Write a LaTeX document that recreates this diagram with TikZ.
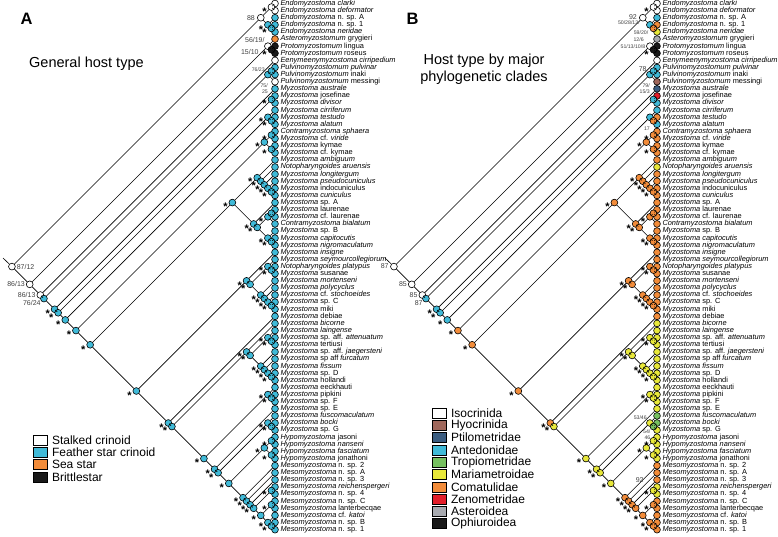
\documentclass[tikz,border=0pt]{standalone}
\usepackage{fontspec}
\setmainfont{Liberation Sans}
\usetikzlibrary{positioning}

\definecolor{wh}{RGB}{255,255,255}
\definecolor{bl}{RGB}{64,186,216}
\definecolor{or}{RGB}{242,140,58}
\definecolor{bk}{RGB}{25,25,25}
\definecolor{ye}{RGB}{232,232,58}
\definecolor{gr}{RGB}{118,192,96}
\definecolor{gy}{RGB}{168,170,176}
\definecolor{br}{RGB}{160,104,92}
\definecolor{db}{RGB}{58,92,128}
\definecolor{rd}{RGB}{226,30,42}

\tikzset{
  dot/.style={circle, draw, line width=0.6pt, inner sep=0pt, minimum size=6.8pt},
  leaflab/.style={anchor=west, inner sep=0pt, font=\fontsize{7.4}{8}\selectfont},
  starlab/.style={inner sep=0pt, font=\fontsize{11}{11}\selectfont\bfseries},
  supp/.style={inner sep=0.5pt, font=\fontsize{7}{7.5}\selectfont, text=black!75},
  suppsmall/.style={inner sep=0.3pt, font=\fontsize{5.2}{5.6}\selectfont, text=black!75},
  branch/.style={line width=0.6pt},
  legbox/.style={draw, line width=0.6pt, minimum width=14pt, minimum height=10pt, inner sep=0pt},
  legtext/.style={anchor=west, inner sep=0pt, font=\fontsize{12}{12}\selectfont},
}

% leaves: label / colour in A / colour in B
\def\leaflist{%
\textit{Endomyzostoma clarki}/wh/wh,
\textit{Endomyzostoma deformator}/wh/wh,
\textit{Endomyzostoma} n. sp. A/bl/bl,
\textit{Endomyzostoma} n. sp. 1/bl/or,
\textit{Endomyzostoma neridae}/bl/ye,
\textit{Asteromyzostomum} grygieri/or/gy,
\textit{Protomyzostomum} lingua/bk/bk,
\textit{Protomyzostomum} roseus/bk/bk,
\textit{Eenymeenymyzostoma cirripedium}/wh/wh,
\textit{Pulvinomyzostomum pulvinar}/bl/bl,
\textit{Pulvinomyzostomum} inaki/bl/bl,
\textit{Pulvinomyzostomum} messingi/wh/br,
\textit{Myzostoma australe}/bl/db,
\textit{Myzostoma} josefinae/bl/rd,
\textit{Myzostoma divisor}/bl/bl,
\textit{Myzostoma cirriferum}/bl/bl,
\textit{Myzostoma testudo}/bl/or,
\textit{Myzostoma alatum}/bl/bl,
\textit{Contramyzostoma sphaera}/bl/or,
\textit{Myzostoma} cf. \textit{viride}/bl/or,
\textit{Myzostoma} kymae/bl/or,
\textit{Myzostoma} cf. kymae/bl/or,
\textit{Myzostoma ambiguum}/bl/or,
\textit{Notopharyngoides aruensis}/bl/ye,
\textit{Myzostoma longitergum}/bl/or,
\textit{Myzostoma pseudocuniculus}/bl/or,
\textit{Myzostoma} indocuniculus/bl/or,
\textit{Myzostoma cuniculus}/bl/or,
\textit{Myzostoma} sp. A/bl/or,
\textit{Myzostoma} laurenae/bl/or,
\textit{Myzostoma} cf. laurenae/bl/or,
\textit{Contramyzostoma bialatum}/bl/or,
\textit{Myzostoma} sp. B/bl/or,
\textit{Myzostoma capitocutis}/bl/or,
\textit{Myzostoma nigromaculatum}/bl/or,
\textit{Myzostoma insigne}/bl/or,
\textit{Myzostoma seymourcollegiorum}/bl/or,
\textit{Notopharyngoides platypus}/bl/or,
\textit{Myzostoma} susanae/bl/or,
\textit{Myzostoma mortenseni}/bl/or,
\textit{Myzostoma polycyclus}/bl/or,
\textit{Myzostoma} cf. \textit{stochoeides}/bl/or,
\textit{Myzostoma} sp. C/bl/or,
\textit{Myzostoma} miki/bl/or,
\textit{Myzostoma} debiae/bl/or,
\textit{Myzostoma bicorne}/bl/ye,
\textit{Myzostoma laingense}/bl/ye,
\textit{Myzostoma} sp. aff. \textit{attenuatum}/bl/ye,
\textit{Myzostoma} tertiusi/bl/ye,
\textit{Myzostoma} sp. aff. \textit{jaegersteni}/bl/ye,
\textit{Myzostoma} sp aff \textit{furcatum}/bl/ye,
\textit{Myzostoma fissum}/bl/ye,
\textit{Myzostoma} sp. D/bl/ye,
\textit{Myzostoma} hollandi/bl/ye,
\textit{Myzostoma} eeckhauti/bl/ye,
\textit{Myzostoma} pipkini/bl/ye,
\textit{Myzostoma} sp. F/bl/ye,
\textit{Myzostoma} sp. E/bl/ye,
\textit{Myzostoma fuscomaculatum}/bl/gr,
\textit{Myzostoma bocki}/bl/gr,
\textit{Myzostoma} sp. G/bl/ye,
\textit{Hypomyzostoma} jasoni/bl/ye,
\textit{Hypomyzostoma nanseni}/bl/ye,
\textit{Hypomyzostoma fasciatum}/bl/ye,
\textit{Hypomyzostoma} jonathoni/bl/ye,
\textit{Mesomyzostoma} n. sp. 2/bl/or,
\textit{Mesomyzostoma} n. sp. A/bl/or,
\textit{Mesomyzostoma} n. sp. 3/bl/or,
\textit{Mesomyzostoma reichenspergeri}/bl/ye,
\textit{Mesomyzostoma} n. sp. 4/bl/ye,
\textit{Mesomyzostoma} n. sp. C/bl/or,
\textit{Mesomyzostoma} lanterbecqae/bl/or,
\textit{Mesomyzostoma} cf. \textit{katoi}/bl/or,
\textit{Mesomyzostoma} n. sp. B/bl/or,
\textit{Mesomyzostoma} n. sp. 1/bl/or}

% clades: first/last leaf, first child, second child, colour A, colour B,
% star (0 none, 1 both panels, 2 only A)
\def\cladelist{%
1/75/1/5/6/75/wh/wh/0, 1/5/1/2/3/5/wh/wh/0, 1/2/1/1/2/2/wh/wh/1,
3/5/3/3/4/5/bl/bl/2, 4/5/4/4/5/5/bl/or/2,
6/75/6/8/9/75/wh/wh/0, 6/8/6/6/7/8/wh/wh/0, 7/8/7/7/8/8/bk/bk/1,
9/75/9/9/10/75/wh/wh/0, 10/75/10/12/13/75/bl/bl/0,
10/12/10/11/12/12/bl/bl/0, 10/11/10/10/11/11/bl/bl/0,
13/75/13/13/14/75/bl/bl/1, 14/75/14/15/16/75/bl/bl/1, 14/15/14/14/15/15/bl/bl/2,
16/75/16/18/19/75/bl/bl/1, 16/18/16/16/17/18/bl/bl/2, 17/18/17/17/18/18/bl/or/2,
19/75/19/22/23/75/bl/or/1, 19/22/19/20/21/22/bl/or/1,
19/20/19/19/20/20/bl/or/1, 21/22/21/21/22/22/bl/or/1,
23/75/23/35/36/75/bl/or/1, 23/35/23/28/29/35/bl/or/1,
23/28/23/23/24/28/bl/or/1, 24/28/24/24/25/28/bl/or/1, 25/28/25/25/26/28/bl/or/1,
26/28/26/26/27/28/bl/or/1, 27/28/27/27/28/28/bl/or/1,
29/35/29/29/30/35/bl/or/1, 30/35/30/32/33/35/bl/or/1, 30/32/30/31/32/32/bl/or/1,
30/31/30/30/31/31/bl/or/0, 33/35/33/33/34/35/bl/or/1, 34/35/34/34/35/35/bl/or/1,
36/75/36/44/45/75/bl/or/1, 36/44/36/36/37/44/bl/or/1, 37/44/37/39/40/44/bl/or/1,
37/39/37/37/38/39/bl/or/1, 38/39/38/38/39/39/bl/or/1,
40/44/40/40/41/44/bl/or/1, 41/44/41/41/42/44/bl/or/1,
42/44/42/42/43/44/bl/or/1, 43/44/43/43/44/44/bl/or/1,
45/75/45/45/46/75/bl/or/1, 46/75/46/54/55/75/bl/ye/1,
46/54/46/46/47/54/bl/ye/1, 47/54/47/49/50/54/bl/ye/1,
47/49/47/47/48/49/bl/ye/1, 48/49/48/48/49/49/bl/ye/1,
50/54/50/50/51/54/bl/ye/1, 51/54/51/51/52/54/bl/ye/1,
52/54/52/52/53/54/bl/ye/1, 53/54/53/53/54/54/bl/ye/1,
55/75/55/57/58/75/bl/ye/1, 55/57/55/55/56/57/bl/ye/1, 56/57/56/56/57/57/bl/ye/1,
58/75/58/58/59/75/bl/ye/1, 59/75/59/61/62/75/bl/ye/1,
59/61/59/59/60/61/bl/ye/2, 60/61/60/60/61/61/bl/gr/2,
62/75/62/65/66/75/bl/ye/1, 62/65/62/63/64/65/bl/ye/1,
62/63/62/62/63/63/bl/ye/1, 64/65/64/64/65/65/bl/ye/1,
66/75/66/66/67/75/bl/or/1, 67/75/67/67/68/75/bl/or/1, 68/75/68/68/69/75/bl/or/1,
69/75/69/70/71/75/bl/or/1, 69/70/69/69/70/70/bl/ye/1,
71/75/71/72/73/75/bl/or/1, 71/72/71/71/72/72/bl/or/1,
73/75/73/73/74/75/bl/or/1, 74/75/74/74/75/75/bl/or/1}

\begin{document}
\begin{tikzpicture}[x=1pt, y=-1pt]
  \useasboundingbox (0,0) rectangle (778,536);

  \foreach \p/\dx in {A/0,B/382}{
    % tips
    \foreach \lab/\ca/\cb [count=\i] in \leaflist {
      \ifnum\dx=0 \let\fc\ca\else\let\fc\cb\fi
      \pgfmathsetmacro\ly{3.5+(\i-1)*7.11}
      \node[dot, fill=\fc] (\p\i x\i) at (\dx+275,\ly) {};
      \node[leaflab, right=1.6pt of \p\i x\i] {\lab};
    }
    % inner nodes
    \foreach \a/\b/\c/\d/\e/\f/\ca/\cb/\s in \cladelist {
      \ifnum\dx=0 \let\fc\ca\else\let\fc\cb\fi
      \pgfmathsetmacro\nx{\dx+275-(\b-\a)*3.555}
      \pgfmathsetmacro\ny{3.5+((\a+\b)/2-1)*7.11}
      \pgfmathtruncatemacro\showstar{(\s==1)||((\s==2)&&(\dx==0))}
      \node[dot, fill=\fc] (\p\a x\b) at (\nx,\ny) {};
      \ifnum\showstar=1 \node[starlab] at ([xshift=-3.2pt,yshift=-4.5pt]\p\a x\b.west) {*};\fi
    }
    % branches
    \foreach \a/\b/\c/\d/\e/\f/\ca/\cb/\s in \cladelist {
      \draw[branch] (\p\a x\b) -- (\p\c x\d);
      \draw[branch] (\p\a x\b) -- (\p\e x\f);
    }
    \coordinate (\p stem) at (\dx+3,258);
    \draw[branch] (\p stem) -- (\p1x75);
  }

  % panel A
  \node[font=\fontsize{16.5}{18}\selectfont\bfseries] (labA) at (26.5,19) {A};
  \node[font=\fontsize{14.5}{16}\selectfont, anchor=west, inner sep=0pt] (titA) at (29,64) {General host type};
  \node[supp, anchor=west] at ([xshift=0.5pt]A1x75.east) {87/12};
  \node[supp, anchor=east] at ([xshift=-0.5pt]A6x75.west) {86/13};
  \node[supp, anchor=east] at ([xshift=-0.5pt]A9x75.west) {86/13};
  \node[supp, anchor=north east] at ([yshift=1pt]A10x75.south west) {76/24};
  \node[supp, anchor=east] at ([xshift=-1.5pt]A1x5.west) {88};
  \node[supp, anchor=south east] at (A6x8.north west) {56/19/};
  \node[supp, anchor=north east] at ([xshift=-6pt]A6x8.south west) {15/10};
  \node[suppsmall, anchor=south east] at (A10x12.north west) {76/23};
  \node[suppsmall, anchor=east, align=right] at ([xshift=-3pt]A13x13.west) {75/\\25};
  \foreach \lab/\c [count=\k] in {Stalked crinoid/wh, Feather star crinoid/bl, Sea star/or, Brittlestar/bk}{
    \node[legbox, fill=\c] (legA\k) at (40.5,427.7+\k*12.3) {};
    \node[legtext, right=4pt of legA\k] {\lab};
  }

  % panel B
  \node[font=\fontsize{16.5}{18}\selectfont\bfseries] (labB) at (412.5,19) {B};
  \node[font=\fontsize{14.5}{17}\selectfont, align=center, inner sep=0pt] (titB) at (484,69) {Host type by major\\phylogenetic clades};
  \node[supp, anchor=east] at ([xshift=-1pt]B1x75.west) {87};
  \node[supp, anchor=east] at ([xshift=-0.5pt]B6x75.west) {85};
  \node[supp, anchor=east] at ([xshift=-0.5pt]B9x75.west) {85};
  \node[supp, anchor=north east] at ([yshift=1pt]B10x75.south west) {87};
  \node[supp, anchor=east] at ([xshift=-1.5pt,yshift=1pt]B1x5.west) {92};
  \node[suppsmall, anchor=east] at ([xshift=-6pt,yshift=2pt]B3x5.west) {50/28/13/};
  \node[suppsmall, anchor=east] at ([xshift=-1pt,yshift=-4pt]B4x5.west) {59/20/};
  \node[suppsmall, anchor=east] at ([xshift=-2pt,yshift=7pt]B6x8.west) {12/6};
  \node[suppsmall, anchor=east] at ([xshift=-0.5pt]B6x8.west) {51/13/10/8};
  \node[supp, anchor=south east] at (B10x12.north west) {78};
  \node[suppsmall, anchor=east, align=right] at ([xshift=-3pt]B13x13.west) {79/\\15/3};
  \node[suppsmall, anchor=east] at ([xshift=-3pt,yshift=3pt]B19x19.west) {17};
  \node[suppsmall, anchor=south east] at (B59x61.north west) {53/46};
  \node[suppsmall, anchor=north east, align=right] at (B60x61.south west) {54/\\46};
  \node[supp, anchor=east] at ([xshift=-9pt]B68x68.west) {92};
  \foreach \lab/\c [count=\k] in {Isocrinida/wh, Hyocrinida/br, Ptilometridae/db, Antedonidae/bl, Tropiometridae/gr, Mariametroidae/ye, Comatulidae/or, Zenometridae/rd, Asteroidea/gy, Ophiuroidea/bk}{
    \node[legbox, fill=\c] (legB\k) at (439.5,400.7+\k*12.3) {};
    \node[legtext, right=4pt of legB\k] {\lab};
  }
\end{tikzpicture}
\end{document}
